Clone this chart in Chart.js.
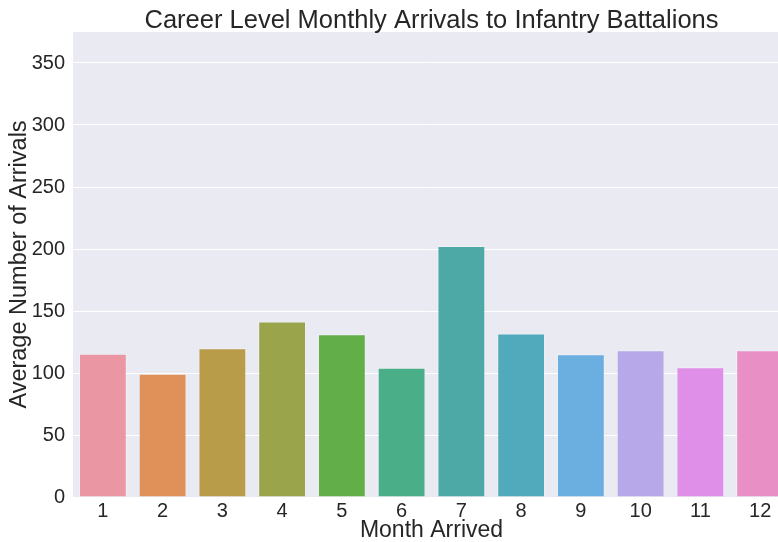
<!DOCTYPE html>
<html>
<head>
<meta charset="utf-8">
<script src="https://cdn.jsdelivr.net/npm/chart.js@4"></script>
<style>
  html, body { margin: 0; padding: 0; background: #ffffff; overflow: hidden; width: 778px; height: 542px; }
  #wrap { width: 790px; height: 542px; }
</style>
</head>
<body>
<div id="wrap"><canvas id="c" width="790" height="542"></canvas></div>
<script>
const months = ['1','2','3','4','5','6','7','8','9','10','11','12'];
const avgArrivals = [115.6, 99.3, 120.0, 141.6, 131.3, 104.3, 202.5, 131.8, 115.2, 118.4, 104.6, 118.4];
const barColors = ['#ea96a3','#e0915a','#b89c4a','#9aa44a','#62ae48','#4aae89','#4ca9a5','#50aabc','#6baee0','#b7a8ea','#df8fe8','#e890c6'];
const yTickValues = [0, 50, 100, 150, 200, 250, 300, 350];
const titleText = 'Career Level Monthly Arrivals to Infantry Battalions';
const xLabel = 'Month Arrived';
const yLabel = 'Average Number of Arrivals';

const FONT = "'Liberation Sans', Arial, sans-serif";
const TEXT = '#262626';

const plotBg = {
  id: 'plotBg',
  beforeDraw(chart) {
    const a = chart.chartArea, ctx = chart.ctx;
    ctx.save();
    ctx.fillStyle = '#eaeaf2';
    ctx.fillRect(a.left, a.top, a.right - a.left, a.bottom - a.top);
    ctx.restore();
  }
};

// Title centred over the plotting area (as matplotlib does)
const axesTitle = {
  id: 'axesTitle',
  afterDraw(chart) {
    const a = chart.chartArea, ctx = chart.ctx;
    ctx.save();
    ctx.fillStyle = TEXT;
    ctx.font = "25.5px " + FONT;
    ctx.textAlign = 'center';
    ctx.textBaseline = 'alphabetic';
    ctx.fillText(titleText, (a.left + a.right) / 2, 28);
    ctx.restore();
  }
};

new Chart(document.getElementById('c'), {
  type: 'bar',
  data: {
    labels: months,
    datasets: [{
      data: avgArrivals,
      backgroundColor: barColors,
      borderColor: 'rgba(255,255,255,0.3)',
      borderWidth: 1,
      categoryPercentage: 1.0,
      barPercentage: 0.8
    }]
  },
  options: {
    responsive: false,
    animation: false,
    layout: { padding: { top: 32, left: 0, right: 0, bottom: 0 } },
    plugins: {
      legend: { display: false },
      tooltip: { enabled: false },
      title: { display: false, text: titleText }
    },
    scales: {
      x: {
        grid: { display: false, drawTicks: false },
        border: { display: false },
        ticks: { color: TEXT, font: { family: FONT, size: 20 }, padding: 2, maxRotation: 0 },
        title: {
          display: true, text: xLabel, color: TEXT,
          font: { family: FONT, size: 23, lineHeight: 1 },
          padding: { top: 0, bottom: 0 }
        },
        afterFit(scale) { scale.height = 45; }
      },
      y: {
        min: 0,
        max: 375,
        grid: { color: '#ffffff', lineWidth: 1, drawTicks: false },
        border: { display: false },
        ticks: { color: TEXT, font: { family: FONT, size: 20 }, padding: 8, stepSize: 50 },
        afterBuildTicks(scale) {
          scale.ticks = yTickValues.map(v => ({ value: v }));
        },
        title: {
          display: true, text: yLabel, color: TEXT,
          font: { family: FONT, size: 23.5, lineHeight: 1 },
          padding: { top: 8, bottom: 0 }
        },
        afterFit(scale) { scale.width = 73; }
      }
    }
  },
  plugins: [plotBg, axesTitle]
});
</script>
</body>
</html>
